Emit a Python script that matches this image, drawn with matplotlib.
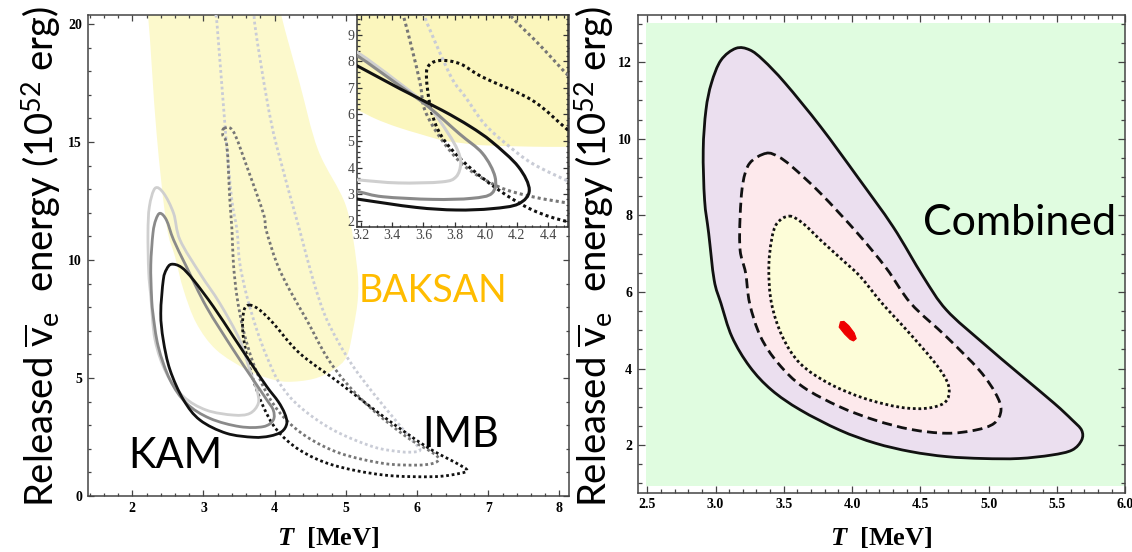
import matplotlib
matplotlib.use('Agg')
import matplotlib.pyplot as plt
from matplotlib.path import Path
from matplotlib.patches import PathPatch
from matplotlib.ticker import MultipleLocator
import numpy as np

plt.rcParams['mathtext.fontset'] = 'custom'
plt.rcParams['mathtext.rm'] = 'Lato'
plt.rcParams['mathtext.it'] = 'Liberation Serif:italic:bold'
plt.rcParams['mathtext.bf'] = 'Liberation Serif:bold'

# ---------------- data (T in MeV, E in 1e52 erg) ----------------
# BAKSAN allowed region (main panel)
baksan_T = [2.12, 2.22, 2.34, 2.48, 2.60, 2.72, 2.90, 3.18, 3.61, 3.90, 4.17, 4.54, 4.82, 5.01, 5.10, 5.17, 5.15, 5.00, 4.61, 4.35, 4.09, 3.95]
baksan_E = [22.5, 20.4, 15.4, 11.5, 10.14, 8.73, 7.32, 6.19, 5.34, 5.00, 4.84, 4.96, 5.34, 5.90, 7.03, 8.45, 9.86, 12.3, 14.66, 17.5, 20.4, 22.5]

# KAM contours (main panel)
kam_light_T = [2.32, 2.24, 2.22, 2.23, 2.26, 2.32, 2.48, 2.72, 3.04, 3.42, 3.65, 3.77, 3.75, 3.65, 3.51, 3.23, 2.95, 2.67, 2.58, 2.44]
kam_light_E = [13.04, 12.26, 11.13, 9.5, 8.45, 6.61, 5.2, 4.21, 3.64, 3.43, 3.50, 3.93, 4.49, 5.34, 6.61, 8.16, 9.43, 10.85, 11.98, 12.83]
kam_mid_T = [2.39, 2.33, 2.29, 2.26, 2.27, 2.29, 2.365, 2.53, 2.76, 3.09, 3.51, 3.84, 3.98, 3.98, 3.89, 3.70, 3.42, 3.04, 2.76, 2.58, 2.48]
kam_mid_E = [11.98, 11.7, 11.13, 9.8, 8.5, 7.74, 6.33, 4.92, 3.93, 3.29, 2.94, 2.94, 3.22, 3.64, 4.07, 4.92, 6.19, 8.02, 9.72, 10.85, 11.69]
kam_dark_T = [2.55, 2.48, 2.435, 2.40, 2.435, 2.53, 2.72, 2.95, 3.32, 3.70, 3.93, 4.10, 4.17, 4.14, 4.05, 3.89, 3.70, 3.42, 3.14, 2.86, 2.69]
kam_dark_E = [9.82, 9.6, 9.15, 7.74, 6.61, 5.34, 4.07, 3.22, 2.66, 2.49, 2.54, 2.73, 3.08, 3.50, 4.0, 4.63, 5.48, 6.75, 8.02, 9.15, 9.69]

# IMB contours (main panel)
imb_light_T = [3.12, 3.19, 3.32, 3.40, 3.47, 3.51, 3.61, 3.75, 3.89, 4.07, 4.35, 4.82, 5.38, 5.76, 5.97, 6.04, 5.92, 5.70, 5.40, 5.10, 4.88, 4.70, 4.54, 4.35, 4.03, 3.89, 3.72, 3.66]
imb_light_E = [22.0, 20.0, 15.0, 12.5, 11.27, 9.86, 8.45, 7.03, 5.90, 4.77, 3.79, 2.80, 2.09, 1.88, 1.87, 1.98, 2.40, 3.20, 4.30, 5.50, 6.60, 7.70, 9.15, 11.27, 14.8, 16.8, 20.0, 22.0]
imb_mid_T = [3.29, 3.27, 3.33, 3.37, 3.40, 3.42, 3.47, 3.56, 3.70, 3.89, 4.12, 4.45, 4.92, 5.53, 6.00, 6.22, 6.30, 6.23, 5.85, 5.38, 5.01, 4.73, 4.45, 4.21, 4.03, 3.88, 3.84, 3.61, 3.42]
imb_mid_E = [15.58, 15.3, 14.8, 12.54, 11.27, 9.86, 8.45, 7.03, 5.62, 4.35, 3.36, 2.51, 1.81, 1.38, 1.31, 1.38, 1.55, 1.81, 2.51, 3.64, 4.77, 5.90, 7.46, 8.73, 9.86, 11.27, 11.98, 13.95, 15.44]
imb_dark_T = [3.65, 3.57, 3.55, 3.61, 3.70, 3.84, 4.03, 4.35, 4.82, 5.53, 6.23, 6.60, 6.70, 6.56, 6.13, 5.53, 4.92, 4.35, 3.98, 3.79]
imb_dark_E = [8.09, 7.88, 7.03, 5.90, 4.92, 3.79, 2.80, 1.95, 1.31, 0.89, 0.82, 0.96, 1.10, 1.38, 2.09, 3.36, 4.77, 6.05, 7.32, 7.88]

# inset (zoomed region)
ins_baksan_T = [3.05, 3.18, 3.30, 3.43, 3.58, 3.72, 3.85, 3.98, 4.20, 4.40, 4.65]
ins_baksan_E = [6.45, 6.16, 5.82, 5.53, 5.26, 5.03, 4.92, 4.84, 4.80, 4.78, 4.78]
ins_kam_light_T = [3.08, 3.19, 3.42, 3.635, 3.76, 3.82, 3.84, 3.81, 3.72, 3.44, 3.19, 3.08]
ins_kam_light_E = [8.6, 8.29, 7.3, 6.28, 5.28, 4.65, 4.15, 3.65, 3.46, 3.42, 3.53, 3.6]
ins_kam_mid_T = [3.08, 3.19, 3.42, 3.635, 3.83, 3.98, 4.06, 4.04, 3.91, 3.66, 3.34, 3.19, 3.08]
ins_kam_mid_E = [8.5, 8.16, 7.2, 6.28, 5.28, 4.53, 3.65, 3.03, 2.84, 2.80, 2.90, 3.08, 3.2]
ins_kam_dark_T = [3.08, 3.19, 3.45, 3.72, 3.90, 4.04, 4.21, 4.28, 4.21, 4.04, 3.81, 3.55, 3.19, 3.08]
ins_kam_dark_E = [8.1, 7.79, 6.97, 6.16, 5.55, 4.97, 4.03, 3.15, 2.63, 2.45, 2.40, 2.50, 2.80, 2.9]
ins_imb_light_T = [3.58, 3.61, 3.70, 3.79, 3.87, 3.99, 4.13, 4.30, 4.54, 4.65]
ins_imb_light_E = [10.3, 9.66, 8.41, 7.29, 6.66, 5.66, 4.90, 4.15, 3.46, 3.2]
ins_imb_mid_T = [3.44, 3.475, 3.53, 3.58, 3.61, 3.72, 3.87, 4.085, 4.30, 4.54, 4.65]
ins_imb_mid_E = [10.3, 9.66, 8.41, 7.16, 6.16, 5.03, 4.03, 3.27, 2.90, 2.65, 2.55]
ins_imb_mid2_T = [4.10, 4.17, 4.34, 4.54, 4.65]
ins_imb_mid2_E = [10.3, 9.66, 8.66, 7.41, 6.9]
ins_imb_dark_T = [4.75, 4.53, 4.30, 4.085, 3.87, 3.72, 3.65, 3.62, 3.64, 3.72, 3.84, 3.98, 4.30, 4.545, 4.75]
ins_imb_dark_E = [1.85, 1.96, 2.40, 3.15, 4.15, 5.15, 6.16, 7.41, 7.88, 8.04, 7.90, 7.41, 6.53, 5.34, 4.6]

# combined fit (right panel)
comb_bg_T = [2.49, 6.0]
comb_bg_E = [0.93, 13.03]
comb_outer_T = [3.149, 3.25, 3.35, 3.51, 3.77, 4.04, 4.30, 4.52, 4.69, 4.96, 5.22, 5.48, 5.61, 5.68, 5.68, 5.61, 5.46, 5.22, 4.96, 4.69, 4.43, 4.17, 3.91, 3.62, 3.41, 3.25, 3.12, 3.04, 2.99, 2.95, 2.92, 2.91, 2.93, 2.97, 3.04]
comb_outer_E = [12.36, 12.32, 12.05, 11.45, 10.31, 9.0, 7.70, 6.4, 5.53, 4.66, 3.87, 3.09, 2.66, 2.39, 2.13, 1.87, 1.74, 1.65, 1.65, 1.70, 1.83, 2.05, 2.39, 2.92, 3.44, 4.05, 4.83, 5.70, 6.31, 7.53, 8.40, 9.70, 10.75, 11.45, 12.05]
comb_mid_T = [3.37, 3.46, 3.56, 3.77, 4.04, 4.25, 4.43, 4.69, 4.93, 5.05, 5.09, 5.04, 4.90, 4.69, 4.43, 4.17, 3.91, 3.64, 3.46, 3.33, 3.25, 3.22, 3.18, 3.18, 3.20, 3.25]
comb_mid_E = [9.62, 9.53, 9.27, 8.57, 7.53, 6.62, 5.70, 4.83, 3.96, 3.35, 2.92, 2.57, 2.39, 2.31, 2.41, 2.65, 3.00, 3.52, 4.13, 4.83, 5.70, 6.50, 7.09, 7.96, 8.83, 9.36]
comb_inner_T = [3.54, 3.64, 3.77, 3.93, 4.06, 4.22, 4.40, 4.59, 4.69, 4.71, 4.67, 4.54, 4.35, 4.09, 3.83, 3.62, 3.49, 3.41, 3.39, 3.41, 3.45]
comb_inner_E = [7.98, 7.79, 7.35, 6.83, 6.40, 5.70, 5.00, 4.22, 3.70, 3.35, 3.09, 2.96, 2.99, 3.22, 3.61, 4.13, 4.83, 5.70, 6.60, 7.35, 7.79]
best_fit_T = [3.915, 3.94, 3.975, 4.015, 4.03, 4.01, 3.985, 3.945, 3.905]
best_fit_E = [5.22, 5.23, 5.12, 4.93, 4.78, 4.72, 4.76, 4.90, 5.08]

# ticks
main_xticks = [2, 3, 4, 5, 6, 7, 8]
main_yticks = [0, 5, 10, 15, 20]
ins_xticks = [3.2, 3.4, 3.6, 3.8, 4.0, 4.2, 4.4]
ins_yticks = [2, 3, 4, 5, 6, 7, 8, 9]
comb_xticks = [2.5, 3.0, 3.5, 4.0, 4.5, 5.0, 5.5, 6.0]
comb_yticks = [2, 4, 6, 8, 10, 12]


def cr_path(T, E, closed=True):
    P = np.column_stack([T, E]).astype(float)
    n = len(P)
    verts = [P[0]]
    codes = [Path.MOVETO]
    segs = range(n) if closed else range(n - 1)
    for i in segs:
        p0 = P[(i - 1) % n] if (closed or i > 0) else P[0]
        p1 = P[i]
        p2 = P[(i + 1) % n]
        p3 = P[(i + 2) % n] if (closed or i + 2 < n) else P[-1]
        verts += [p1 + (p2 - p0) / 6.0, p2 - (p3 - p1) / 6.0, p2]
        codes += [Path.CURVE4] * 3
    if closed:
        verts.append(P[0])
        codes.append(Path.CLOSEPOLY)
    return Path(verts, codes)


def draw(ax, T, E, color='none', lw=1.0, ls='-', closed=True, fill='none', z=3):
    p = PathPatch(cr_path(T, E, closed), facecolor=fill, edgecolor=color, lw=lw,
                  linestyle=ls, zorder=z, capstyle='butt', joinstyle='round')
    ax.add_patch(p)


DOT = (0, (1.0, 1.0))
DASH = (0, (3.6, 1.9))

C_LIGHT = '#cfcfcf'
C_MID = '#8a8a8a'
C_DARK = '#111111'
C_DLIGHT = '#c9ccd6'
C_DMID = '#767676'
C_YEL = '#fcf9cc'
C_YEL_INS = '#fbf6bd'

fig = plt.figure(figsize=(11.32, 5.52), dpi=100)

tickfont = dict(family='Liberation Serif', weight='bold', size=10)


def style_axes(ax, major_len, minor_len, color='#444444'):
    for s in ax.spines.values():
        s.set_linewidth(1.1)
        s.set_color(color)
    ax.tick_params(which='both', direction='in', top=True, right=True, color=color, width=0.9)
    ax.tick_params(which='major', length=major_len, pad=4)
    ax.tick_params(which='minor', length=minor_len)


# ---------------- left main panel ----------------
axL = fig.add_axes([0.0775, 0.1014, 0.4248, 0.8714])
axL.set_xlim(1.374, 8.128)
axL.set_ylim(0, 20.38)
draw(axL, baksan_T, baksan_E, fill=C_YEL, lw=0, z=1)
draw(axL, imb_light_T, imb_light_E, C_DLIGHT, 2.0, DOT)
draw(axL, imb_mid_T, imb_mid_E, C_DMID, 2.0, DOT)
draw(axL, imb_dark_T, imb_dark_E, C_DARK, 2.0, DOT)
draw(axL, kam_light_T, kam_light_E, C_LIGHT, 2.0)
draw(axL, kam_mid_T, kam_mid_E, C_MID, 2.0)
draw(axL, kam_dark_T, kam_dark_E, C_DARK, 2.0)
axL.set_xticks(main_xticks)
axL.set_yticks(main_yticks)
axL.xaxis.set_minor_locator(MultipleLocator(0.2))
axL.yaxis.set_minor_locator(MultipleLocator(1))
style_axes(axL, 4, 2.2)
for lab in axL.get_xticklabels() + axL.get_yticklabels():
    lab.set_fontproperties(tickfont)
axL.text(1.95, 1.19, 'KAM', family='Lato', fontsize=30, color='black', ha='left', va='baseline', zorder=5)
axL.text(6.07, 2.08, 'IMB', family='Lato', fontsize=30, color='black', ha='left', va='baseline', zorder=5)
axL.text(5.18, 8.22, 'BAKSAN', family='Lato', fontsize=27, color='#ffbc00', ha='left', va='baseline', zorder=5)

# ---------------- inset ----------------
axI = fig.add_axes([0.3156, 0.5893, 0.1864, 0.3835])
axI.set_facecolor('white')
axI.set_xlim(3.176, 4.53)
axI.set_ylim(1.77, 9.75)
ip = cr_path(ins_baksan_T, ins_baksan_E, closed=False)
verts = list(ip.vertices) + [(4.65, 10.5), (3.05, 10.5), (3.05, 6.45)]
codes = list(ip.codes) + [Path.LINETO, Path.LINETO, Path.CLOSEPOLY]
axI.add_patch(PathPatch(Path(verts, codes), facecolor=C_YEL_INS, edgecolor='none', zorder=1))
draw(axI, ins_imb_light_T, ins_imb_light_E, C_DLIGHT, 2.2, DOT, closed=False)
draw(axI, ins_imb_mid_T, ins_imb_mid_E, C_DMID, 2.2, DOT, closed=False)
draw(axI, ins_imb_mid2_T, ins_imb_mid2_E, C_DMID, 2.2, DOT, closed=False)
draw(axI, ins_imb_dark_T, ins_imb_dark_E, C_DARK, 2.2, DOT, closed=False)
draw(axI, ins_kam_light_T, ins_kam_light_E, C_LIGHT, 2.2, closed=False)
draw(axI, ins_kam_mid_T, ins_kam_mid_E, C_MID, 2.2, closed=False)
draw(axI, ins_kam_dark_T, ins_kam_dark_E, C_DARK, 2.2, closed=False)
axI.set_xticks(ins_xticks)
axI.set_xticklabels(['%.1f' % v for v in ins_xticks])
axI.set_yticks(ins_yticks)
axI.xaxis.set_minor_locator(MultipleLocator(0.05))
axI.yaxis.set_minor_locator(MultipleLocator(0.2))
style_axes(axI, 3.5, 1.8, '#333333')
axI.tick_params(which='major', pad=2)
for lab in axI.get_xticklabels() + axI.get_yticklabels():
    lab.set_fontproperties(dict(family='Liberation Serif', size=10))
    lab.set_color('#444444')

# ---------------- right panel ----------------
axR = fig.add_axes([0.5633, 0.1074, 0.4308, 0.8654])
axR.set_xlim(2.43, 6.0)
axR.set_ylim(0.757, 13.23)
axR.fill_between(comb_bg_T, comb_bg_E[0], comb_bg_E[1], color='#e0fce0', lw=0, zorder=0)
draw(axR, comb_outer_T, comb_outer_E, C_DARK, 2.0, '-', fill='#ebdfef', z=2)
draw(axR, comb_mid_T, comb_mid_E, C_DARK, 2.0, DASH, fill='#fde9ec', z=3)
draw(axR, comb_inner_T, comb_inner_E, C_DARK, 2.0, DOT, fill='#fdfdd8', z=4)
axR.fill(best_fit_T, best_fit_E, color='#ee0000', lw=0.8, zorder=5)
axR.set_xticks(comb_xticks)
axR.set_xticklabels(['%.1f' % v for v in comb_xticks])
axR.set_yticks(comb_yticks)
axR.xaxis.set_minor_locator(MultipleLocator(0.1))
axR.yaxis.set_minor_locator(MultipleLocator(0.5))
style_axes(axR, 5, 2.8)
for lab in axR.get_xticklabels() + axR.get_yticklabels():
    lab.set_fontproperties(tickfont)
axR.text(4.52, 7.49, 'Combined', family='Lato', fontsize=31, color='black', ha='left', va='baseline', zorder=6)

# ---------------- axis labels ----------------
ylab = r'Released $\overline{\mathrm{v}}_{\mathrm{e}}$  energy (10$^{\mathrm{52}}$ erg)'
fig.text(0.037, 0.536, ylab, rotation=90, ha='center', va='center', family='Lato', fontsize=27.5)
fig.text(0.5256, 0.536, ylab, rotation=90, ha='center', va='center', family='Lato', fontsize=27.5)
xlab = r'$\mathit{T}$  [MeV]'
fig.text(0.2898, 0.027, xlab, ha='center', va='center', family='Liberation Serif', weight='bold', fontsize=19)
fig.text(0.7787, 0.027, xlab, ha='center', va='center', family='Liberation Serif', weight='bold', fontsize=19)

fig.savefig('out.png', dpi=100)
